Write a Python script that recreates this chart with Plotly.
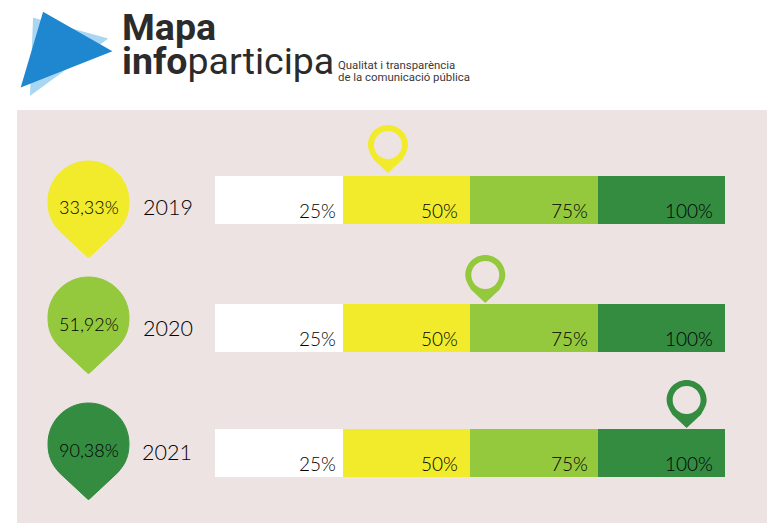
import plotly.graph_objects as go

W, H = 767, 523
years = ["2019", "2020", "2021"]
scores = [33.33, 51.92, 90.38]
score_colors = ["#F1EB2C", "#94C83D", "#348C40"]
bands = ["25%", "50%", "75%", "100%"]
band_sizes = [25, 25, 25, 25]
band_colors = ["#FFFFFF", "#F1EB2C", "#94C83D", "#348C40"]

row_centers = [200, 328, 453]
big_pin_tops = [161, 277, 403]
small_pin_tips = [173, 303, 428]
score_label_y = [207, 324, 450]
year_label_y = [207, 328, 452]
year_label_x = [168, 168, 167]
band_label_shift = [-5, -10, -8, -10]
FONT = "Lato"
INK = "#000000"


def px(x): return x / W
def py(y): return 1 - y / H
def paper_path(points):
    return "M" + " L".join(f"{px(x):.5f},{py(y):.5f}" for x, y in points) + " Z"


fig = go.Figure()

# stacked scale bars, one row per year
cum = 0
for name, size, col, shift in zip(bands, band_sizes, band_colors, band_label_shift):
    fig.add_trace(go.Bar(
        y=row_centers, x=[size] * len(years), orientation="h", width=48,
        marker=dict(color=col, line=dict(width=0)), name=name,
        showlegend=False, hoverinfo="skip"))
    cum += size
    for rc in row_centers:
        fig.add_annotation(x=cum, y=rc + 10, xref="x", yref="y", text=name, showarrow=False,
                           xanchor="right", yanchor="middle", xshift=shift,
                           font=dict(family=FONT, size=19, color=INK, weight=300))

shapes = []
# panel
shapes.append(dict(type="rect", xref="paper", yref="paper", x0=px(17), x1=1, y0=0, y1=py(110),
                   fillcolor="#EEE3E3", line_width=0, layer="below"))
# logo
shapes.append(dict(type="path", xref="paper", yref="paper", layer="below",
                   path=paper_path([(34, 19), (106, 39), (31, 94)]),
                   fillcolor="#A9D6F3", line=dict(color="#A9D6F3", width=2)))
shapes.append(dict(type="path", xref="paper", yref="paper", layer="below",
                   path=paper_path([(44, 14), (109, 51), (23, 85)]),
                   fillcolor="#1F87CF", line=dict(color="#1F87CF", width=3)))


def teardrop(cx, top, r, tip):
    c = top + r
    k = 0.5523 * r
    return (f"M{cx - 2},{tip - 2} L{cx - 0.72 * r},{c + 0.72 * r} "
            f"C{cx - 0.92 * r},{c + 0.5 * r} {cx - r},{c + 0.3 * r} {cx - r},{c} "
            f"C{cx - r},{c - k} {cx - k},{top} {cx},{top} "
            f"C{cx + k},{top} {cx + r},{c - k} {cx + r},{c} "
            f"C{cx + r},{c + 0.3 * r} {cx + 0.92 * r},{c + 0.5 * r} {cx + 0.72 * r},{c + 0.72 * r} "
            f"L{cx + 2},{tip - 2} Q{cx},{tip + 1} {cx - 2},{tip - 2} Z")


for i, (yr, val, col) in enumerate(zip(years, scores, score_colors)):
    # big pin on the left
    shapes.append(dict(type="path", xref="x3", yref="y", layer="below",
                       path=teardrop(88.5, big_pin_tops[i], 40.5, big_pin_tops[i] + 97),
                       fillcolor=col, line=dict(color=col, width=1)))
    # small ring pin, located through the value axis
    tip = small_pin_tips[i]
    rr, hole, d = 20, 14, 28
    k, kh = 0.5523 * rr, 0.5523 * hole
    path = (f"M0,0 L{-0.72*rr},{d-0.72*rr} C{-0.92*rr},{d-0.4*rr} {-rr},{d-0.2*rr} {-rr},{d} "
            f"C{-rr},{d+k} {-k},{d+rr} 0,{d+rr} C{k},{d+rr} {rr},{d+k} {rr},{d} "
            f"C{rr},{d-0.2*rr} {0.92*rr},{d-0.4*rr} {0.72*rr},{d-0.72*rr} Z "
            f"M{-hole},{d} C{-hole},{d+kh} {-kh},{d+hole} 0,{d+hole} C{kh},{d+hole} {hole},{d+kh} {hole},{d} "
            f"C{hole},{d-kh} {kh},{d-hole} 0,{d-hole} C{-kh},{d-hole} {-hole},{d-kh} {-hole},{d} Z")
    shapes.append(dict(type="path", xref="x2", yref="y", xsizemode="pixel", ysizemode="pixel",
                       xanchor=val, yanchor=tip, path=path, fillcolor=col, fillrule="evenodd",
                       line_width=0, layer="above"))
    fig.add_annotation(x=88.5, y=score_label_y[i], xref="x3", yref="y", showarrow=False,
                       text=f"{val:.2f}".replace(".", ",") + "%",
                       font=dict(family=FONT, size=18, color=INK, weight=300))
    fig.add_annotation(x=year_label_x[i], y=year_label_y[i], xref="x3", yref="y", showarrow=False,
                       text=yr, font=dict(family=FONT, size=21.5, color=INK, weight=300))

# logo text
for x, y, t, s, c in [
    (120, 27, "<b>Mapa</b>", 37.5, "#2b2b2b"),
    (120, 61, "<b>info</b>participa", 37.5, "#2b2b2b"),
    (336, 65, "Qualitat i transparència", 11.4, "#3a3a3a"),
    (336, 77, "de la comunicació pública", 11.4, "#3a3a3a"),
]:
    fig.add_annotation(x=x, y=y, xref="x3", yref="y", text=t, showarrow=False, xanchor="left",
                       yanchor="middle", font=dict(family="Roboto", size=s, color=c))

fig.update_layout(
    width=W, height=H, margin=dict(l=0, r=0, t=0, b=0), autosize=False,
    paper_bgcolor="white", plot_bgcolor="rgba(0,0,0,0)", barmode="stack", bargap=0,
    shapes=shapes, showlegend=False,
    xaxis=dict(domain=[px(215), px(725)], range=[0, 100], visible=False, fixedrange=True),
    xaxis2=dict(domain=[px(213.5), px(737)], range=[0, 100], visible=False, anchor="y", fixedrange=True),
    xaxis3=dict(domain=[0, 1], range=[0, W], visible=False, anchor="y", fixedrange=True),
    yaxis=dict(domain=[0, 1], range=[H, 0], visible=False, fixedrange=True),
)
# keep the helper axes active
fig.add_trace(go.Scatter(x=[scores[0]], y=[small_pin_tips[0]], xaxis="x2", yaxis="y", mode="markers",
                         marker=dict(opacity=0), hoverinfo="skip", showlegend=False))
fig.add_trace(go.Scatter(x=[0], y=[0], xaxis="x3", yaxis="y", mode="markers",
                         marker=dict(opacity=0), hoverinfo="skip", showlegend=False))
fig.write_html("out.html", config={"displayModeBar": False},
               post_script="document.body.style.margin='0';document.documentElement.style.overflow='hidden';")
